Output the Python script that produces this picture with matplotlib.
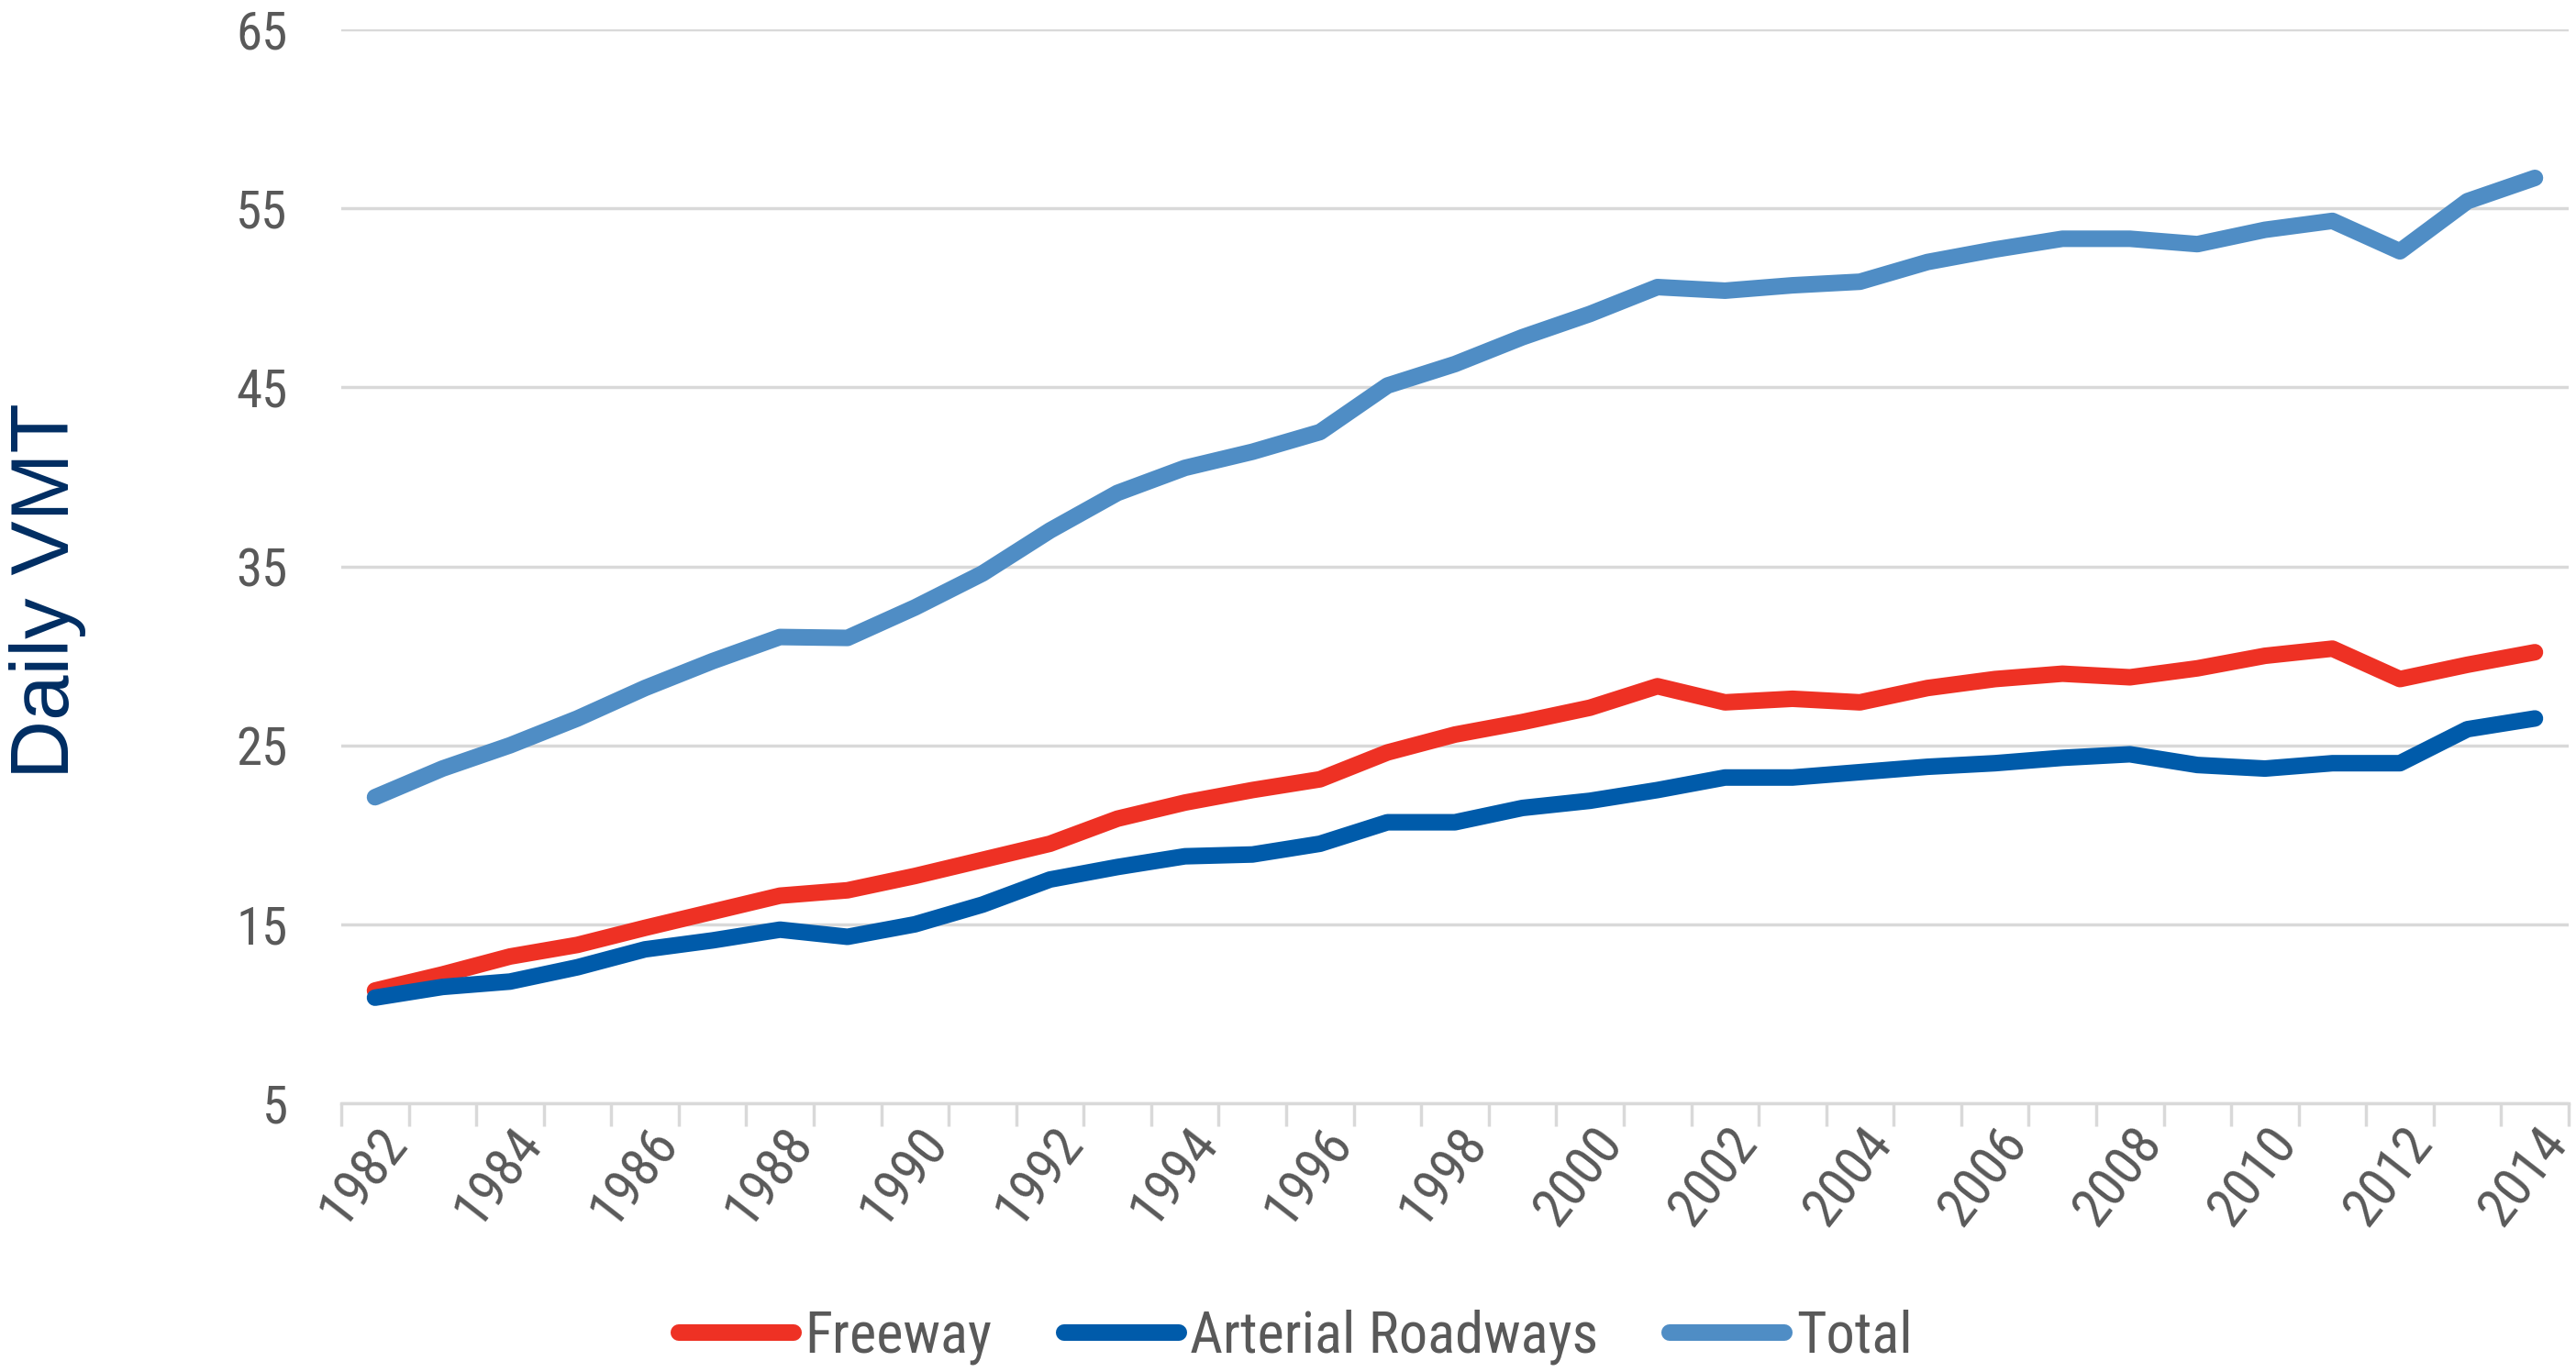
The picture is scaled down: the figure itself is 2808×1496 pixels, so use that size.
import matplotlib
matplotlib.use("Agg")
import matplotlib.pyplot as plt
import matplotlib.transforms as mtransforms
from matplotlib import font_manager

# values
years = list(range(1982, 2015))
freeway = [11.3, 12.2, 13.2, 13.85, 14.8, 15.7, 16.6, 16.9, 17.7, 18.6,
           19.5, 20.9, 21.8, 22.5, 23.1, 24.6, 25.6, 26.3, 27.1, 28.3,
           27.4, 27.6, 27.4, 28.2, 28.7, 29.0, 28.8, 29.3, 30.0, 30.4,
           28.7, 29.5, 30.2]
arterial = [10.9, 11.5, 11.8, 12.6, 13.6, 14.1, 14.7, 14.3, 15.0, 16.1,
            17.5, 18.2, 18.8, 18.9, 19.5, 20.7, 20.7, 21.5, 21.9, 22.5,
            23.2, 23.2, 23.5, 23.8, 24.0, 24.3, 24.5, 23.9, 23.7, 24.0,
            24.0, 25.9, 26.5]
total = [22.1, 23.7, 25.0, 26.5, 28.2, 29.7, 31.05, 31.0, 32.7, 34.6,
         37.0, 39.1, 40.5, 41.4, 42.5, 45.1, 46.3, 47.8, 49.1, 50.6,
         50.4, 50.7, 50.9, 52.0, 52.7, 53.3, 53.3, 53.0, 53.8, 54.3,
         52.6, 55.4, 56.7]
series_names = ["Freeway", "Arterial Roadways", "Total"]
y_ticks = [5, 15, 25, 35, 45, 55, 65]

COLORS = ["#EE3124", "#005BAA", "#4F8DC5"]
GRID = "#D9D9D9"
TEXT = "#595959"

# the reference text looks condensed, use a narrow face when there is one
installed = {f.name for f in font_manager.fontManager.ttflist}
narrow = [f for f in ["Liberation Sans Narrow", "Arial Narrow", "Roboto Condensed",
                      "Open Sans Condensed", "DejaVu Sans Condensed"] if f in installed]
plt.rcParams["font.family"] = narrow + ["Liberation Sans", "DejaVu Sans"]

fig = plt.figure(figsize=(28.08, 14.96), dpi=100)
ax = fig.add_axes([372 / 2808, 1 - 1203 / 1496, 2428 / 2808, (1203 - 32) / 1496])

xs = list(range(len(years)))
for vals, name, col in zip([freeway, arterial, total], series_names, COLORS):
    ax.plot(xs, vals, color=col, lw=13, label=name, solid_capstyle="round",
            solid_joinstyle="round", zorder=3)

ax.set_xlim(-0.5, len(years) - 0.5)
ax.set_ylim(5, 65)
ax.set_yticks(y_ticks)
ax.yaxis.grid(True, color=GRID, lw=2.5)
ax.set_axisbelow(True)

for s in ["top", "right", "left"]:
    ax.spines[s].set_visible(False)
ax.spines["bottom"].set_color(GRID)
ax.spines["bottom"].set_linewidth(2.5)
ax.spines["bottom"].set_zorder(1)

ax.tick_params(axis="y", length=0, pad=42, labelsize=41, labelcolor=TEXT)

# tick marks on category boundaries, labels on every other category
ax.set_xticks([i - 0.5 for i in range(len(years) + 1)])
ax.set_xticklabels([])
ax.tick_params(axis="x", which="major", length=18, width=2.5, color=GRID)
ax.set_xticks(xs[::2], minor=True)
ax.set_xticklabels([str(y) for y in years[::2]], minor=True, rotation=52,
                   ha="right", va="center", rotation_mode="anchor")
ax.tick_params(axis="x", which="minor", length=0, pad=24, labelsize=43, labelcolor=TEXT)
offset = mtransforms.ScaledTranslation(24 / 100, 0, fig.dpi_scale_trans)
for lbl in ax.get_xticklabels(minor=True):
    lbl.set_transform(lbl.get_transform() + offset)

fig.text(52 / 2808, 1 - 644 / 1496, "Daily VMT", rotation=90, fontsize=64,
         family=["Liberation Sans", "DejaVu Sans"], color="#002D62",
         ha="center", va="center")

fig.legend(loc="center", bbox_to_anchor=(0.503, 38 / 1496), ncol=3, frameon=False,
           fontsize=45, handlelength=2.0, handletextpad=0.2, columnspacing=1.25,
           labelcolor=TEXT)

fig.savefig("out.png", dpi=100)
